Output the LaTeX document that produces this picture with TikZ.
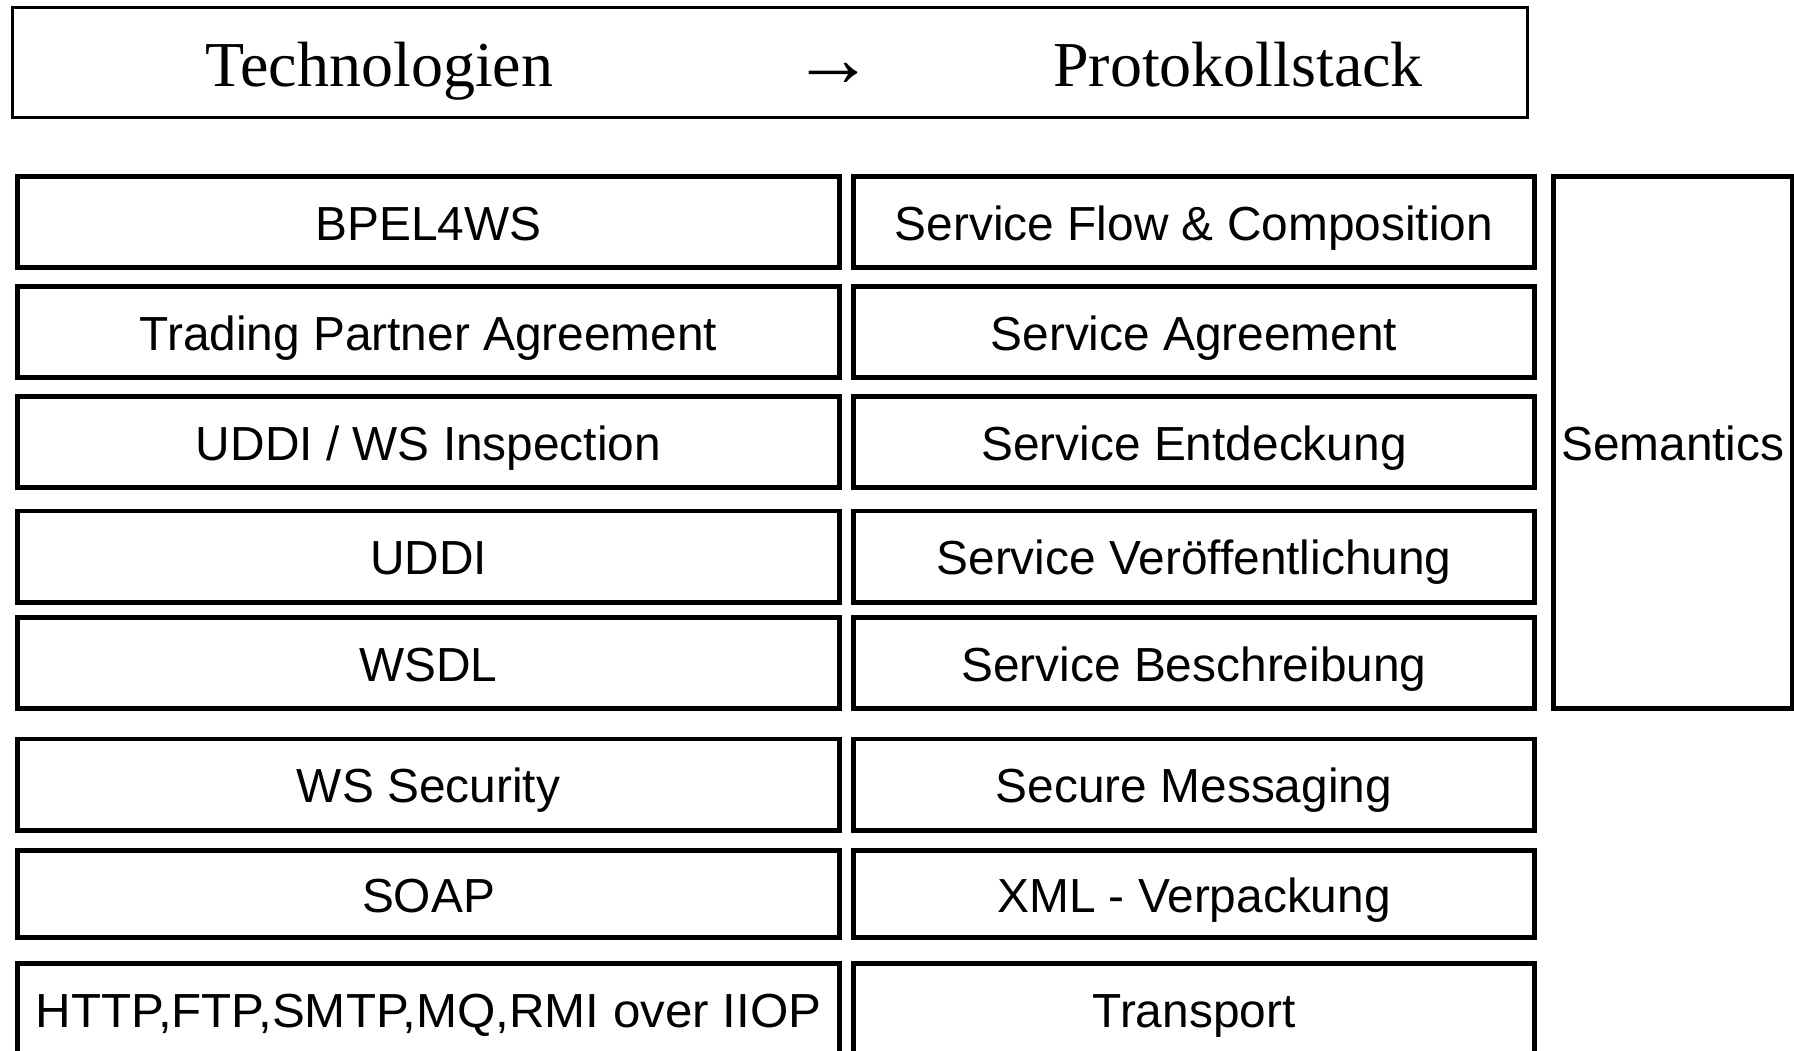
\documentclass[tikz,border=0pt]{standalone}
\usepackage{fontspec}
\setmainfont{Liberation Sans}
\newfontfamily\titlefont{Liberation Serif}

\begin{document}
\begin{tikzpicture}[x=0.01cm,y=-0.01cm,
    every node/.style={inner sep=0pt,outer sep=0pt},
    layer/.style={draw,line width=1.42pt,minimum height=0.91cm,
        text height=0.36cm,text depth=0cm,font=\fontsize{13.6}{16}\selectfont},
    techlayer/.style={layer,minimum width=8.22cm},
    protolayer/.style={layer,minimum width=6.81cm},
    headtext/.style={anchor=base,font=\titlefont\fontsize{18.2}{22}\selectfont}]

    \useasboundingbox (0,0) rectangle (1794,1050);

    % header line
    \node[draw,line width=0.85pt,minimum width=15.15cm,minimum height=1.10cm] (header) at (770,62.5) {};
    \node[headtext] (techlbl) at (379.5,86) {Technologien};
    \node[headtext,font=\titlefont\fontsize{23.3}{26}\selectfont] (arrowlbl) at (833,86) {→};
    \node[headtext] (stacklbl) at (1238,86) {Protokollstack};

    % technologies
    \node[techlayer] (bpel) at (428.5,222) {BPEL4WS};
    \node[techlayer] (tpa) at (428.5,332) {Trading Partner Agreement};
    \node[techlayer] (wsinsp) at (428.5,442) {UDDI / WS Inspection};
    \node[techlayer] (uddi) at (428.5,556.5) {UDDI};
    \node[techlayer] (wsdl) at (428.5,663) {WSDL};
    \node[techlayer] (wssec) at (428.5,784.5) {WS Security};
    \node[techlayer,minimum height=0.87cm] (soap) at (428.5,894) {SOAP};
    \node[techlayer] (proto) at (428.5,1009) {\addfontfeature{FakeStretch=1.03}HTTP,FTP,SMTP,MQ,RMI over IIOP};

    % protocol stack
    \node[protolayer] (flow) at (1194,222) {Service Flow \& Composition};
    \node[protolayer] (agree) at (1194,332) {Service Agreement};
    \node[protolayer] (disc) at (1194,442) {Service Entdeckung};
    \node[protolayer] (publ) at (1194,556.5) {Service Veröffentlichung};
    \node[protolayer] (descr) at (1194,663) {Service Beschreibung};
    \node[protolayer] (secmsg) at (1194,784.5) {Secure Messaging};
    \node[protolayer,minimum height=0.87cm] (xmlpack) at (1194,894) {XML - Verpackung};
    \node[protolayer] (transp) at (1194,1009) {Transport};

    % semantics
    \node[layer,minimum width=2.385cm,minimum height=5.32cm] (sem) at (1672.75,442.5) {Semantics};

\end{tikzpicture}
\end{document}
